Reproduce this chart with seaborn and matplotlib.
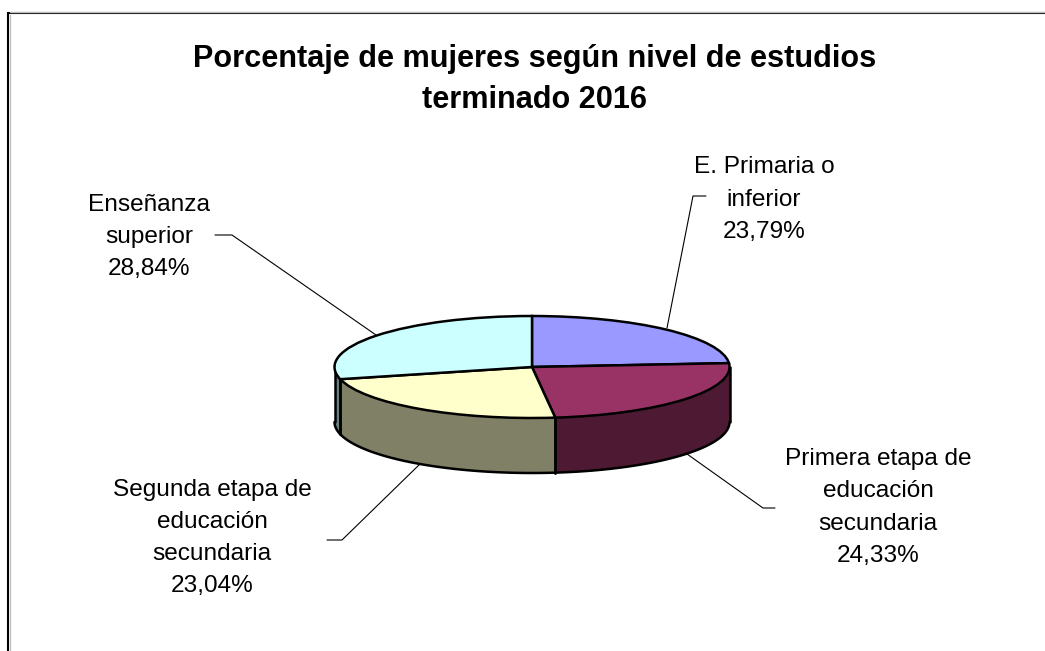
import numpy as np
import matplotlib
matplotlib.use("Agg")
import matplotlib.pyplot as plt
import seaborn as sns

# datos
categorias = ["E. Primaria o\ninferior", "Primera etapa de\neducación\nsecundaria",
              "Segunda etapa de\neducación\nsecundaria", "Enseñanza\nsuperior"]
valores = [23.79, 24.33, 23.04, 28.84]
etiquetas_pct = ["23,79%", "24,33%", "23,04%", "28,84%"]
titulo = "Porcentaje de mujeres según nivel de estudios\nterminado 2016"

colores = ["#9999FF", "#993366", "#FFFFCC", "#CCFFFF"]
colores_lado = ["#4D4D80", "#4D1933", "#808066", "#668080"]

sns.set_theme(style="white")
plt.rcParams["font.family"] = ["Liberation Sans", "DejaVu Sans"]

W, H = 1045, 651
fig = plt.figure(figsize=(W / 100, H / 100), dpi=100, facecolor="white")

# capa de fondo en pixeles: marco, titulo, etiquetas
bg = fig.add_axes([0, 0, 1, 1])
bg.set_xlim(0, W)
bg.set_ylim(H, 0)
bg.axis("off")
bg.plot([8, 8, W], [H, 13, 13], color="black", lw=1.5, solid_joinstyle="miter")
bg.plot([9.5, 9.5], [H, 14.5], color="#c0c0c0", lw=1)
bg.plot([9.5, W], [11.5, 11.5], color="#c0c0c0", lw=1)

bg.text(535, 79.5, titulo, ha="center", va="center", fontsize=22.05, fontweight="bold",
        linespacing=1.47, color="black")

pos_etiquetas = [(764, 199.5), (878, 507.5), (212, 538), (149, 237)]
for cat, pct, (x, y) in zip(categorias, etiquetas_pct, pos_etiquetas):
    bg.text(x, y, cat + "\n" + pct, ha="center", va="center", fontsize=17.6,
            linespacing=1.6, color="black")

guias = [([667, 693, 706], [328, 196, 196]),
         ([687, 763, 775], [454, 508, 508]),
         ([420, 342, 327], [464, 540, 540]),
         ([376, 232, 215], [335, 235, 235])]
for xs, ys in guias:
    bg.plot(xs, ys, color="black", lw=0.8)

# tarta en perspectiva
cx, cy, rx, ry, prof = 532, 367, 197.5, 51, 55
ax = fig.add_axes([(cx - rx) / W, (H - (cy + ry + prof)) / H, 2 * rx / W, (2 * ry + prof) / H])
ax.patch.set_alpha(0)
wedges, _ = ax.pie(valores, colors=colores, startangle=90, counterclock=False, radius=1,
                   wedgeprops=dict(edgecolor="black", linewidth=1.8, zorder=3, clip_on=False))
ax.set_aspect("auto")
d = prof / ry
ax.set_xlim(-1, 1)
ax.set_ylim(-1 - d, 1)
ax.axis("off")

# pared lateral visible, sale de los mismos porcentajes
fin = np.cumsum(valores) / sum(valores) * 2 * np.pi
ini = np.r_[0, fin[:-1]]
for a, b, c in zip(ini, fin, colores_lado):
    a2, b2 = max(a, np.pi / 2), min(b, 3 * np.pi / 2)
    if b2 <= a2:
        continue
    t = np.linspace(a2, b2, 80)
    xs, ys = np.sin(t), np.cos(t)
    ax.fill_between(xs, ys, ys - d, color=c, linewidth=0, zorder=1, clip_on=False)
    ax.plot(xs, ys - d, color="black", lw=1.8, zorder=2, clip_on=False)
    ax.plot([xs[0], xs[0]], [ys[0], ys[0] - d], color="black", lw=1.8, zorder=2, clip_on=False)
    ax.plot([xs[-1], xs[-1]], [ys[-1], ys[-1] - d], color="black", lw=1.8, zorder=2, clip_on=False)

fig.savefig("out.png", dpi=100)
plt.close()
